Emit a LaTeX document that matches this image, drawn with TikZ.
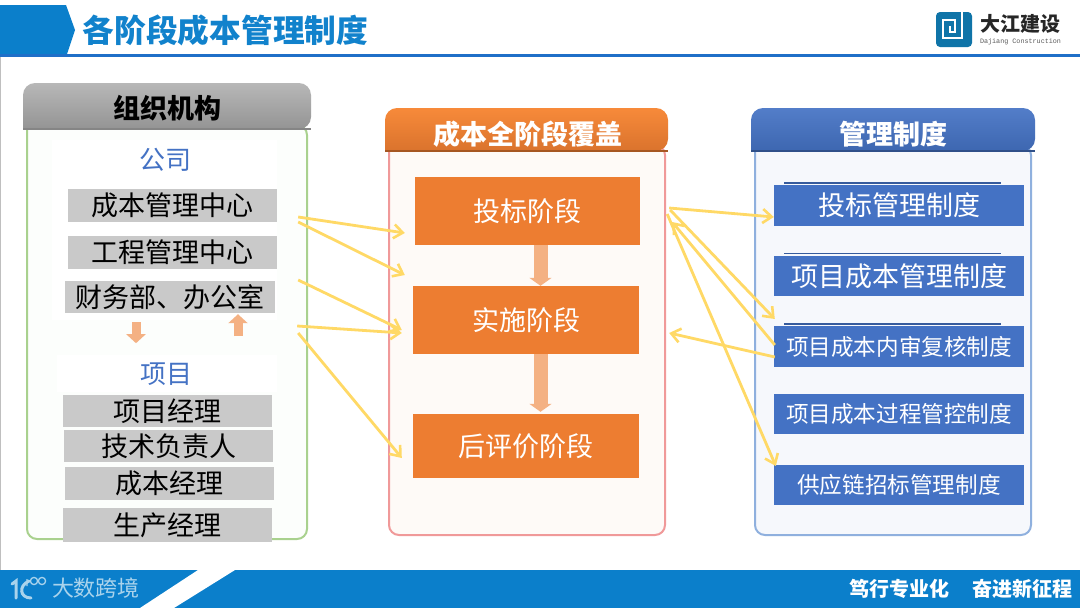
\documentclass[tikz,border=0pt]{standalone}
\usepackage{fontspec}
\setmainfont{Noto Sans CJK SC}
\newfontfamily\logomono{Liberation Mono}
\usetikzlibrary{arrows.meta}
\definecolor{hdrblue}{HTML}{0B7FCB}
\definecolor{rule}{HTML}{1F6FC8}
\definecolor{titleblue}{HTML}{1182CC}
\definecolor{grayrect}{HTML}{C9C9C9}
\definecolor{orangeb}{HTML}{ED7D31}
\definecolor{orangetop}{HTML}{F78A3A}
\definecolor{blueb}{HTML}{4472C4}
\definecolor{ya}{HTML}{FFD966}
\definecolor{pale}{HTML}{F4B183}
\definecolor{foot}{HTML}{A9D3EC}
\definecolor{logoblue}{HTML}{0F74A8}
\definecolor{gb}{HTML}{A9D18E}
\definecolor{pk}{HTML}{F09999}
\definecolor{bb}{HTML}{8FB0DE}
\newcommand{\fs}[1]{\fontsize{#1pt}{#1pt}\selectfont}
\tikzset{
  x=1pt,y=-1pt,
  graybox/.style={fill=grayrect,inner sep=0pt,text=black,font=\fs{27}},
  orangebox/.style={fill=orangeb,inner sep=0pt,text=white,font=\fs{27}},
  bluebox/.style={fill=blueb,inner sep=0pt,text=white,minimum width=250pt},
  yarrow/.style={draw=ya,line width=2.8pt,-{Straight Barb[length=9pt,width=14pt,line width=2.6pt]}},
  blockbig/.style={draw=pale,line width=14pt,-{Triangle[length=8pt,width=22pt]}},
  blocksmall/.style={draw=pale,line width=9pt,-{Triangle[length=9pt,width=19pt]}},
  headtext/.style={font=\fs{27}\bfseries,inner sep=0pt},
  sub/.style={font=\fs{26},text=blueb,inner sep=0pt},
}
\begin{document}
\begin{tikzpicture}
\useasboundingbox (0,0) rectangle (1080,608);
\fill[white] (0,0) rectangle (1080,608);
\fill[black!25] (0,56) rectangle (1,570);
% header
\fill[hdrblue] (0,5) -- (66,5) -- (75,30) -- (67,54) -- (0,54) -- cycle;
\fill[rule] (0,54) rectangle (1080,57);
\node[font=\fs{31.7}\bfseries,text=titleblue,inner sep=0pt] (title) at (225.5,30) {各阶段成本管理制度};
% logo
\fill[rounded corners=4pt,fill=logoblue] (936,12) rectangle (972,47);
\draw[white,line width=2.2pt] (962,12) -- (962,38) -- (943,38) -- (943,20) -- (955,20) -- (955,32) -- (950,32) -- (950,26);
\node[font=\fs{20}\bfseries,text=black!85,inner sep=0pt] (logoa) at (1020.5,24) {大江建设};
\node[font=\logomono\fs{6.75},text=black!65,inner sep=0pt] (logob) at (1020.5,41.5) {Dajiang Construction};
% left panel
\filldraw[draw=gb,line width=2pt,fill=gb!3,rounded corners=10pt] (27,125) -- (27,539) -- (307,539) -- (307,125) [sharp corners] -- cycle;
\fill[white] (52,140) rectangle (277,320);
\fill[white] (57,355) rectangle (277,392);
\shade[top color=black!28,bottom color=black!42,rounded corners=12pt] (23,129) -- (23,83) -- (311,83) -- (311,129) [sharp corners] -- cycle;
\fill[black!48] (23,128) rectangle (311,129.5);
\node[headtext,text=black] (zz) at (167,108) {组织机构};
\node[sub] (gs) at (165,160) {公司};
\node[graybox,minimum width=209pt,minimum height=33pt] (cb) at (172.5,205.5) {成本管理中心};
\node[graybox,minimum width=209pt,minimum height=33pt] (gc) at (172.5,252.5) {工程管理中心};
\node[graybox,minimum width=210pt,minimum height=32pt] (cw) at (170,297) {财务部、办公室};
\node[sub] (xm) at (166,374) {项目};
\node[graybox,minimum width=209pt,minimum height=32pt] (p1) at (167.5,411) {项目经理};
\node[graybox,minimum width=209pt,minimum height=32pt] (p2) at (168.5,446) {技术负责人};
\node[graybox,minimum width=209pt,minimum height=33pt] (p3) at (169.5,483.5) {成本经理};
\node[graybox,minimum width=209pt,minimum height=34pt] (p4) at (167.5,525) {生产经理};
\draw[blocksmall] ([xshift=-34pt,yshift=-9pt]cw.south) -- ([xshift=-34pt,yshift=-30pt]cw.south);
\draw[blocksmall] ([xshift=68pt,yshift=-23pt]cw.south) -- ([xshift=68pt,yshift=-1pt]cw.south);
% middle panel
\filldraw[draw=pk,line width=2pt,fill=orangeb!4,rounded corners=10pt] (389,145) -- (389,535) -- (665,535) -- (665,145) [sharp corners] -- cycle;
\shade[top color=orangetop,bottom color=orangeb!92!black,rounded corners=12pt] (385,151) -- (385,108) -- (668,108) -- (668,151) [sharp corners] -- cycle;
\fill[orangeb!70!black] (385,150) rectangle (668,151.5);
\node[headtext,text=white] (cq) at (527.5,134) {成本全阶段覆盖};
\node[orangebox,minimum width=225pt,minimum height=68pt] (tb) at (527.5,211) {投标阶段};
\node[orangebox,minimum width=226pt,minimum height=68pt] (ss) at (526,320) {实施阶段};
\node[orangebox,minimum width=226pt,minimum height=64pt] (hp) at (526,446) {后评价阶段};
\draw[blockbig] ([xshift=13pt]tb.south) -- ([xshift=14.5pt]ss.north);
\draw[blockbig] ([xshift=14.5pt]ss.south) -- ([xshift=14.5pt,yshift=2pt]hp.north);
% right panel
\filldraw[draw=bb,line width=2pt,fill=blueb!5,rounded corners=10pt] (755,145) -- (755,535) -- (1031,535) -- (1031,145) [sharp corners] -- cycle;
\shade[top color=blueb!92!white,bottom color=blueb!90!black,rounded corners=12pt] (751,151) -- (751,108) -- (1035,108) -- (1035,151) [sharp corners] -- cycle;
\fill[blueb!70!black] (751,150) rectangle (1035,151.5);
\node[headtext,text=white] (gl) at (893,134) {管理制度};
\fill[blueb!80!black] (784,181.5) rectangle (1001,184);
\fill[blueb!80!black] (784,252.5) rectangle (1001,254);
\fill[blueb!80!black] (784,323) rectangle (1001,325);
\node[bluebox,minimum height=41pt,font=\fs{27}] (mt) at (899,205.5) {投标管理制度};
\node[bluebox,minimum height=40pt,font=\fs{27}] (mc) at (899,276) {项目成本管理制度};
\node[bluebox,minimum height=41pt,font=\fs{22.6}] (mn) at (899,346.5) {项目成本内审复核制度};
\node[bluebox,minimum height=40pt,font=\fs{22.6}] (mg) at (899,414) {项目成本过程管控制度};
\node[bluebox,minimum height=40pt,font=\fs{22.6}] (mz) at (899,485) {供应链招标管理制度};
% yellow arrows
\draw[yarrow] ([xshift=21pt,yshift=-11.5pt]cb.east) -- ([xshift=-10pt,yshift=-22pt]tb.west);
\draw[yarrow] ([xshift=21pt,yshift=-16.5pt]cb.east) -- ([xshift=-8pt,yshift=45pt]ss.west);
\draw[yarrow] ([xshift=23pt,yshift=17pt]cw.east) -- ([xshift=-11pt,yshift=-10pt]ss.west);
\draw[yarrow] ([xshift=22pt,yshift=-29pt]cw.east) -- ([xshift=-11pt,yshift=-13pt]ss.west);
\draw[yarrow] ([xshift=23pt,yshift=-36pt]cw.east) -- ([xshift=-11pt,yshift=-12pt]hp.west);
\draw[yarrow] ([xshift=29pt,yshift=3pt]tb.east) -- ([yshift=-11.5pt]mt.west);
\draw[yarrow] ([xshift=30pt,yshift=1pt]tb.east) -- ([xshift=1pt,yshift=27.5pt]mn.west);
\draw[yarrow] ([xshift=1pt,yshift=1.5pt]mn.west) -- ([xshift=32pt,yshift=-11pt]tb.east);
\draw[yarrow] ([xshift=1pt,yshift=-10.5pt]mn.west) -- ([xshift=30pt,yshift=-13pt]ss.east);
\draw[yarrow] ([xshift=27pt,yshift=-3pt]tb.east) -- ([xshift=2pt,yshift=19pt]mz.west);
% footer
\fill[hdrblue] (0,570) rectangle (1080,608);
\fill[white] (198,570) -- (235,570) -- (174,608) -- (140,608) -- cycle;
\draw[foot,line width=3pt,line cap=round] (12,584) -- (16,581) -- (16,598);
\draw[foot,line width=3pt,line cap=round] (29,581) .. controls (18,586) and (20,598) .. (31,598);
\draw[foot,line width=1.3pt] (27,579) -- (27,586) (34,581) circle (3.6pt) (42,581) circle (3.6pt);
\node[font=\fs{22},text=foot,inner sep=0pt] (ft1) at (96,588) {大数跨境};
\node[font=\fs{20}\bfseries,text=white,inner sep=0pt] (ft2) at (899.5,589) {笃行专业化};
\node[font=\fs{20}\bfseries,text=white,inner sep=0pt] (ft3) at (1022.5,589) {奋进新征程};
\end{tikzpicture}
\end{document}
